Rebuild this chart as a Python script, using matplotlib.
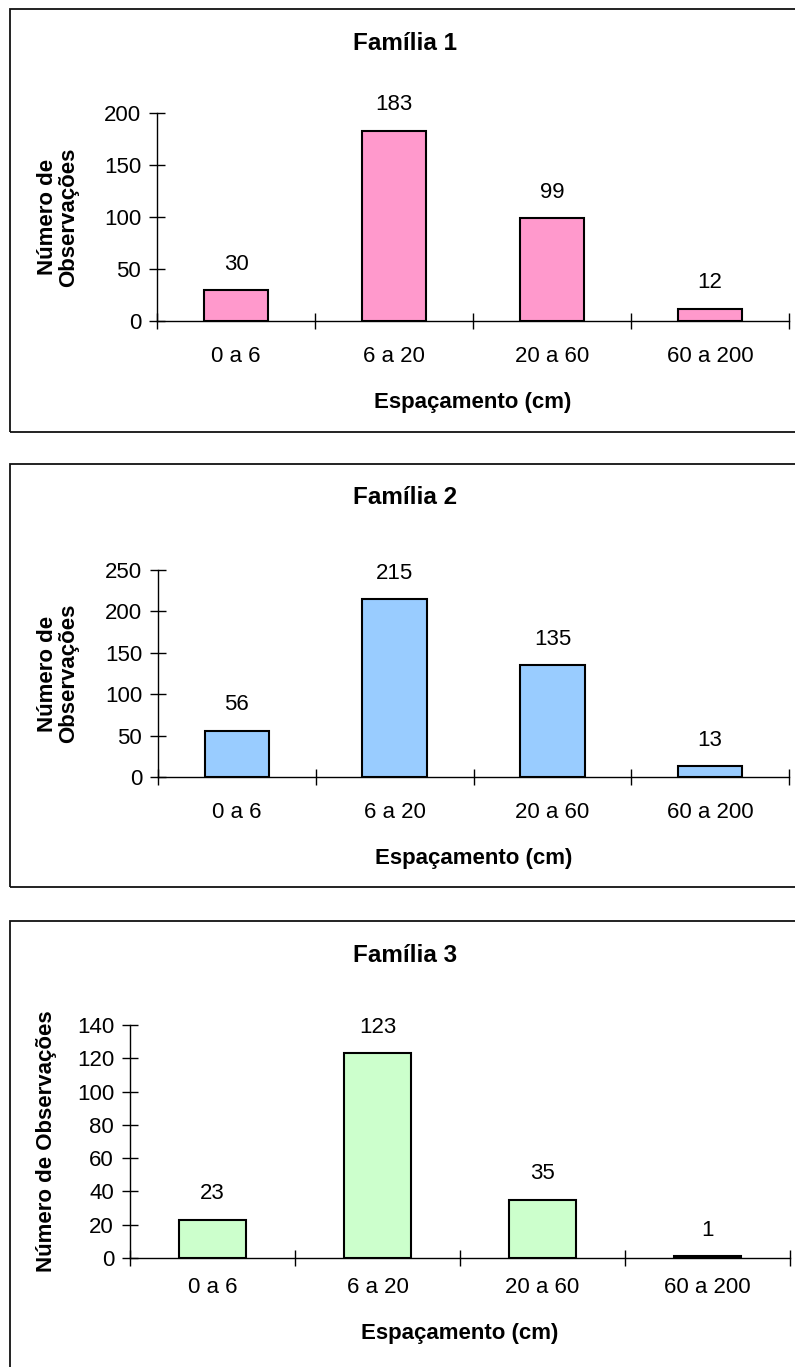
import matplotlib
matplotlib.use("Agg")
import matplotlib.pyplot as plt
from matplotlib.patches import Rectangle
import numpy as np

plt.rcParams['font.family'] = ['Liberation Sans', 'DejaVu Sans']

categorias = ['0 a 6', '6 a 20', '20 a 60', '60 a 200']
familia1 = [30, 183, 99, 12]
familia2 = [56, 215, 135, 13]
familia3 = [23, 123, 35, 1]

titulos = ['Família 1', 'Família 2', 'Família 3']
ylabels = ['Número de\nObservações', 'Número de\nObservações', 'Número de Observações']
ymax = [200, 250, 140]
ystep = [50, 50, 20]
cores = ['#FF99CC', '#99CCFF', '#CCFFCC']

W, H = 795, 1367
fig = plt.figure(figsize=(W / 100, H / 100), dpi=100)

def px_axes(left, top, right, bottom):
    return fig.add_axes([left / W, 1 - bottom / H, (right - left) / W, (bottom - top) / H])

# caixas de cada gráfico (x0, y0, y1 em pixels)
caixas = [(10, 9, 432), (10, 464, 887), (10, 921, 1380)]
# área de plotagem (left, top, right, bottom)
areas = [(157, 113, 789, 321), (158, 570, 789, 777), (130, 1025, 790, 1258)]
ylab_x = [58, 58, 47]
pad_cat = [18, 18, 14]
pad_xlab = [18, 18, 18]

dados = [familia1, familia2, familia3]

for i in range(3):
    x0, y0, y1 = caixas[i]
    fig.patches.append(Rectangle((x0 / W, 1 - y1 / H), (810 - x0) / W, (y1 - y0) / H,
                                 transform=fig.transFigure, fill=False,
                                 edgecolor='#111111', linewidth=1.3))
    fig.text(405 / W, 1 - (y0 + 34) / H, titulos[i], ha='center', va='center',
             fontsize=17.5, fontweight='bold')

    ax = px_axes(*areas[i])
    x = np.arange(len(categorias)) + 0.5
    ax.bar(x, dados[i], width=0.41, color=cores[i], edgecolor='black', linewidth=1.5)
    for xi, v in zip(x, dados[i]):
        ax.annotate(str(v), (xi, v), xytext=(0, 11), textcoords='offset points',
                    ha='center', va='bottom', fontsize=16)

    ax.set_xlim(0, len(categorias))
    ax.set_ylim(0, ymax[i])
    ax.set_yticks(np.arange(0, ymax[i] + 1, ystep[i]))
    ax.set_xticks(np.arange(len(categorias) + 1))
    ax.set_xticklabels([])
    ax.set_xticks(x, minor=True)
    ax.set_xticklabels(categorias, minor=True)
    ax.tick_params(axis='both', which='major', direction='inout', length=11,
                   width=1, labelsize=16, pad=6)
    ax.tick_params(axis='x', which='minor', length=0, labelsize=16, pad=pad_cat[i])
    for s in ['top', 'right']:
        ax.spines[s].set_visible(False)
    for s in ['left', 'bottom']:
        ax.spines[s].set_linewidth(1)
    ax.set_xlabel('Espaçamento (cm)', fontsize=16, fontweight='bold', labelpad=pad_xlab[i])
    cy = (areas[i][1] + areas[i][3]) / 2
    fig.text(ylab_x[i] / W, 1 - cy / H, ylabels[i], rotation=90, ha='center',
             va='center', fontsize=16, fontweight='bold', linespacing=1.0)

fig.savefig('out.png', dpi=100)
